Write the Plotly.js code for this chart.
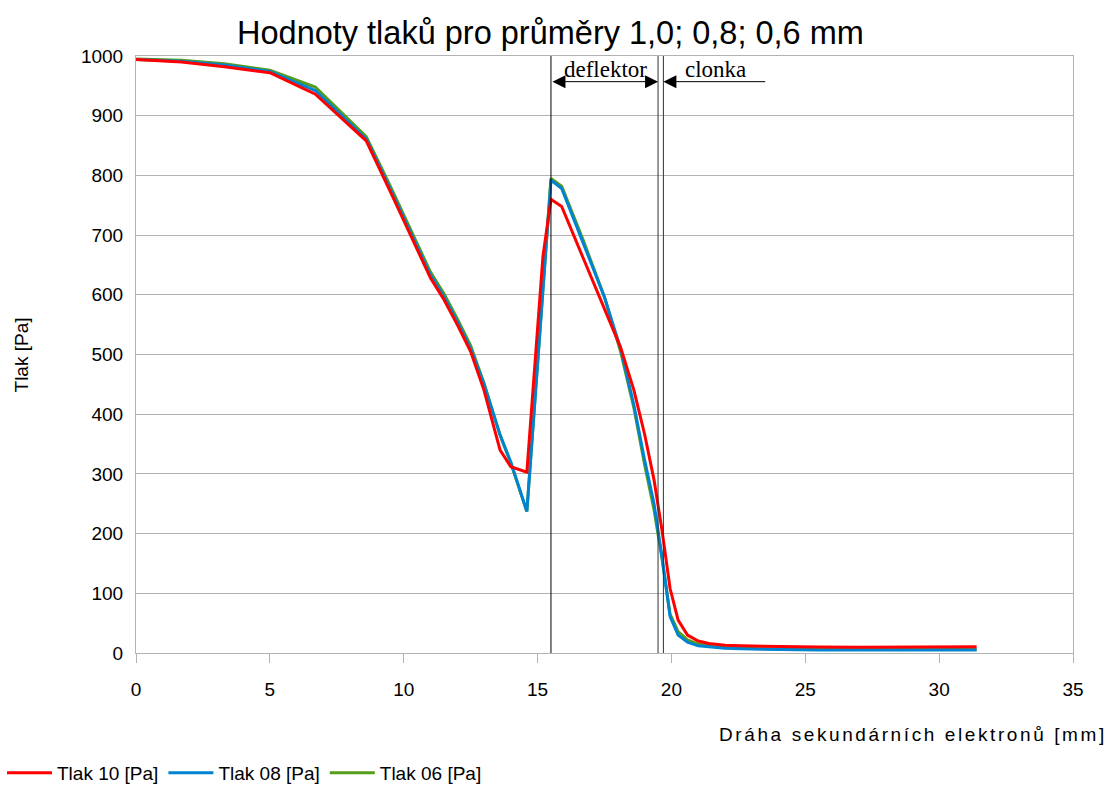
<!DOCTYPE html>
<html>
<head>
<meta charset="utf-8">
<script src="https://cdn.plot.ly/plotly-3.0.1.min.js"></script>
<style>html,body{margin:0;padding:0;background:#fff;}#chart{width:1112px;height:785px;}</style>
</head>
<body>
<div id="chart"></div>
<script>
// Dráha sekundárních elektronů [mm]
const drahaMm = [0, 1.7, 3.3, 5.0, 6.7, 8.6, 9.5, 10.2, 11.0, 11.5, 12.0, 12.5, 13.0, 13.6, 14.0, 14.6, 15.2, 15.5, 15.9, 16.7, 17.5, 18.1, 18.6, 19.0, 19.35, 19.65, 19.95, 20.25, 20.6, 21.0, 21.4, 22.0, 22.6, 23.5, 24.5, 25.5, 27.0, 28.5, 30.0, 31.4];
// Tlak 10 [Pa]
const tlak10 = [994, 990, 982, 972, 936, 858, 773, 706, 628, 592, 550, 505, 440, 340, 312, 303, 664, 760, 748, 662, 575, 512, 440, 366, 290, 205, 108, 55, 30, 20, 16, 13, 12, 11, 10, 10, 9.5, 9.5, 9.5, 10.5];
// Tlak 08 [Pa]
const tlak08 = [994, 991, 985, 974, 942, 861, 777, 710, 633, 597, 555, 510, 450, 365, 320, 237, 598, 792, 778, 688, 596, 510, 415, 323, 250, 160, 61, 30, 18, 12, 10, 8, 7, 6, 5.5, 5, 5, 5, 5, 5];
// Tlak 06 [Pa]
const tlak06 = [995, 993, 987, 976, 948, 865, 782, 715, 638, 602, 560, 515, 452, 365, 318, 237, 600, 795, 782, 692, 596, 505, 410, 315, 240, 158, 65, 36, 22, 15, 12, 10, 8, 7, 6.5, 6, 6, 6, 6, 6];

const xTicks = [0, 5, 10, 15, 20, 25, 30, 35];
const yTicks = [0, 100, 200, 300, 400, 500, 600, 700, 800, 900, 1000];
// positions of marked boundaries (mm)
const hraniceDeflektor = [15.5, 19.5];
const hraniceClonka = [19.7, 23.56];

const FONT = 'Liberation Sans, Arial, sans-serif';
const SERIF = 'Liberation Serif, Times New Roman, serif';

const traces = [
  {x: drahaMm, y: tlak06, name: 'Tlak 06 [Pa]', mode: 'lines', line: {color: '#579d1c', width: 3}},
  {x: drahaMm, y: tlak08, name: 'Tlak 08 [Pa]', mode: 'lines', line: {color: '#0084d1', width: 3}},
  {x: drahaMm, y: tlak10, name: 'Tlak 10 [Pa]', mode: 'lines', line: {color: '#ff0000', width: 3}}
];

const layout = {
  width: 1112, height: 785,
  margin: {l: 136, r: 39, t: 56, b: 132, autoexpand: false},
  paper_bgcolor: '#fff', plot_bgcolor: '#fff',
  font: {family: FONT, color: '#000', size: 19},
  title: {text: 'Hodnoty tlaků pro průměry 1,0; 0,8; 0,6 mm', font: {family: FONT, size: 32.5, color: '#000'},
          x: 0.495, xref: 'container', y: 0.958, yref: 'container', yanchor: 'middle'},
  showlegend: true,
  legend: {orientation: 'h', traceorder: 'reversed', x: -0.143, xanchor: 'left', y: -0.201, yanchor: 'middle',
           itemwidth: 45, font: {family: FONT, size: 19, color: '#000'}, bgcolor: 'rgba(0,0,0,0)'},
  xaxis: {range: [0, 35], tickvals: xTicks, ticktext: xTicks.map(String), showgrid: false, zeroline: false,
          showline: true, linecolor: '#b3b3b3', linewidth: 1, mirror: true,
          ticks: 'outside', ticklen: 9, tickcolor: '#b3b3b3', ticklabelstandoff: 10,
          tickfont: {family: FONT, size: 19, color: '#000'}},
  yaxis: {range: [0, 1000], tickvals: yTicks, ticktext: yTicks.map(String), showgrid: true, gridcolor: '#b3b3b3', gridwidth: 1,
          zeroline: false, showline: true, linecolor: '#b3b3b3', linewidth: 1, mirror: true,
          ticks: '', ticklabelstandoff: 8, tickfont: {family: FONT, size: 19, color: '#000'}},
  shapes: [
    {type: 'line', xref: 'x', yref: 'y', x0: hraniceDeflektor[0], x1: hraniceDeflektor[0], y0: 0, y1: 1000, line: {color: '#000', width: 1}},
    {type: 'line', xref: 'x', yref: 'y', x0: hraniceDeflektor[1], x1: hraniceDeflektor[1], y0: 0, y1: 1000, line: {color: '#333', width: 1}},
    {type: 'line', xref: 'x', yref: 'y', x0: hraniceClonka[0], x1: hraniceClonka[0], y0: 0, y1: 1000, line: {color: '#333', width: 1}}
  ],
  annotations: [
    {xref: 'x', yref: 'y', x: hraniceDeflektor[1], y: 957, ax: hraniceDeflektor[0], ay: 957, axref: 'x', ayref: 'y',
     text: '', showarrow: true, arrowhead: 2, startarrowhead: 2, arrowside: 'end+start', arrowsize: 2.6, startarrowsize: 2.6, arrowwidth: 1, arrowcolor: '#000', standoff: 0, startstandoff: 0},
    {xref: 'x', yref: 'y', x: hraniceClonka[0], y: 957, ax: hraniceClonka[1], ay: 957, axref: 'x', ayref: 'y',
     text: '', showarrow: true, arrowhead: 2, arrowsize: 2.6, arrowwidth: 1, arrowcolor: '#000', standoff: 0},
    {xref: 'x', yref: 'y', x: 17.52, y: 978, text: 'deflektor', showarrow: false,
     font: {family: SERIF, size: 23, color: '#000'}},
    {xref: 'x', yref: 'y', x: 21.63, y: 978, text: 'clonka', showarrow: false,
     font: {family: SERIF, size: 23, color: '#000'}},
    {xref: 'paper', yref: 'paper', x: 1.038, xanchor: 'right', y: -0.137, yanchor: 'middle', showarrow: false,
     text: '<span style="letter-spacing:2.6px">Dráha sekundárních elektronů [mm]</span>', font: {family: FONT, size: 19, color: '#000'}},
    {xref: 'paper', yref: 'paper', x: -0.1217, xanchor: 'center', y: 0.5, yanchor: 'middle', showarrow: false, textangle: -90,
     text: 'Tlak [Pa]', font: {family: FONT, size: 19, color: '#000'}}
  ]
};

Plotly.newPlot('chart', traces, layout, {displayModeBar: false, staticPlot: true});
</script>
</body>
</html>
